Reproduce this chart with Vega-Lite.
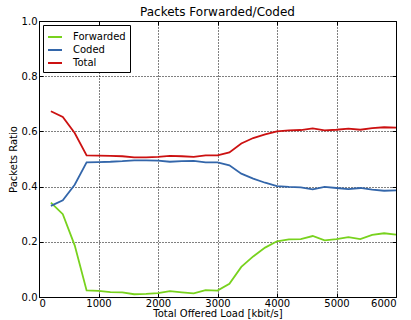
{
  "$schema": "https://vega.github.io/schema/vega-lite/v6.json",
  "width": 357,
  "height": 276,
  "autosize": {"type": "none"},
  "padding": {"left": 39, "top": 21, "right": 15, "bottom": 23},
  "background": "white",
  "title": {"text": "Packets Forwarded/Coded", "font": "DejaVu Sans", "fontSize": 12, "fontWeight": "normal", "color": "black", "offset": 4, "dy": 7},
  "config": {
    "view": {"stroke": "black", "strokeWidth": 1},
    "font": "DejaVu Sans",
    "axis": {
      "labelFont": "DejaVu Sans", "labelFontSize": 10, "labelColor": "black",
      "titleFont": "DejaVu Sans", "titleFontSize": 10, "titleFontWeight": "normal", "titleColor": "black",
      "domain": false, "tickColor": "black", "tickSize": -4, "tickWidth": 1,
      "grid": true, "gridColor": "black", "gridDash": [1, 2], "gridOpacity": 1, "gridWidth": 1,
      "labelPadding": 6
    }
  },
  "data": {"values": [
    {"load": 200, "series": "Forwarded", "ratio": 0.342},
    {"load": 400, "series": "Forwarded", "ratio": 0.300},
    {"load": 600, "series": "Forwarded", "ratio": 0.187},
    {"load": 800, "series": "Forwarded", "ratio": 0.024},
    {"load": 1000, "series": "Forwarded", "ratio": 0.022},
    {"load": 1200, "series": "Forwarded", "ratio": 0.018},
    {"load": 1400, "series": "Forwarded", "ratio": 0.017},
    {"load": 1600, "series": "Forwarded", "ratio": 0.010},
    {"load": 1800, "series": "Forwarded", "ratio": 0.011},
    {"load": 2000, "series": "Forwarded", "ratio": 0.014},
    {"load": 2200, "series": "Forwarded", "ratio": 0.021},
    {"load": 2400, "series": "Forwarded", "ratio": 0.017},
    {"load": 2600, "series": "Forwarded", "ratio": 0.013},
    {"load": 2800, "series": "Forwarded", "ratio": 0.025},
    {"load": 3000, "series": "Forwarded", "ratio": 0.023},
    {"load": 3200, "series": "Forwarded", "ratio": 0.048},
    {"load": 3400, "series": "Forwarded", "ratio": 0.109},
    {"load": 3600, "series": "Forwarded", "ratio": 0.147},
    {"load": 3800, "series": "Forwarded", "ratio": 0.179},
    {"load": 4000, "series": "Forwarded", "ratio": 0.202},
    {"load": 4200, "series": "Forwarded", "ratio": 0.209},
    {"load": 4400, "series": "Forwarded", "ratio": 0.210},
    {"load": 4600, "series": "Forwarded", "ratio": 0.221},
    {"load": 4800, "series": "Forwarded", "ratio": 0.205},
    {"load": 5000, "series": "Forwarded", "ratio": 0.210},
    {"load": 5200, "series": "Forwarded", "ratio": 0.217},
    {"load": 5400, "series": "Forwarded", "ratio": 0.210},
    {"load": 5600, "series": "Forwarded", "ratio": 0.225},
    {"load": 5800, "series": "Forwarded", "ratio": 0.231},
    {"load": 6000, "series": "Forwarded", "ratio": 0.226},
    {"load": 200, "series": "Coded", "ratio": 0.330},
    {"load": 400, "series": "Coded", "ratio": 0.350},
    {"load": 600, "series": "Coded", "ratio": 0.407},
    {"load": 800, "series": "Coded", "ratio": 0.488},
    {"load": 1000, "series": "Coded", "ratio": 0.489},
    {"load": 1200, "series": "Coded", "ratio": 0.490},
    {"load": 1400, "series": "Coded", "ratio": 0.492},
    {"load": 1600, "series": "Coded", "ratio": 0.495},
    {"load": 1800, "series": "Coded", "ratio": 0.495},
    {"load": 2000, "series": "Coded", "ratio": 0.494},
    {"load": 2200, "series": "Coded", "ratio": 0.490},
    {"load": 2400, "series": "Coded", "ratio": 0.492},
    {"load": 2600, "series": "Coded", "ratio": 0.493},
    {"load": 2800, "series": "Coded", "ratio": 0.488},
    {"load": 3000, "series": "Coded", "ratio": 0.488},
    {"load": 3200, "series": "Coded", "ratio": 0.477},
    {"load": 3400, "series": "Coded", "ratio": 0.447},
    {"load": 3600, "series": "Coded", "ratio": 0.429},
    {"load": 3800, "series": "Coded", "ratio": 0.414},
    {"load": 4000, "series": "Coded", "ratio": 0.402},
    {"load": 4200, "series": "Coded", "ratio": 0.399},
    {"load": 4400, "series": "Coded", "ratio": 0.397},
    {"load": 4600, "series": "Coded", "ratio": 0.390},
    {"load": 4800, "series": "Coded", "ratio": 0.399},
    {"load": 5000, "series": "Coded", "ratio": 0.395},
    {"load": 5200, "series": "Coded", "ratio": 0.391},
    {"load": 5400, "series": "Coded", "ratio": 0.395},
    {"load": 5600, "series": "Coded", "ratio": 0.389},
    {"load": 5800, "series": "Coded", "ratio": 0.385},
    {"load": 6000, "series": "Coded", "ratio": 0.386},
    {"load": 200, "series": "Total", "ratio": 0.673},
    {"load": 400, "series": "Total", "ratio": 0.652},
    {"load": 600, "series": "Total", "ratio": 0.594},
    {"load": 800, "series": "Total", "ratio": 0.513},
    {"load": 1000, "series": "Total", "ratio": 0.512},
    {"load": 1200, "series": "Total", "ratio": 0.511},
    {"load": 1400, "series": "Total", "ratio": 0.510},
    {"load": 1600, "series": "Total", "ratio": 0.506},
    {"load": 1800, "series": "Total", "ratio": 0.506},
    {"load": 2000, "series": "Total", "ratio": 0.508},
    {"load": 2200, "series": "Total", "ratio": 0.511},
    {"load": 2400, "series": "Total", "ratio": 0.510},
    {"load": 2600, "series": "Total", "ratio": 0.508},
    {"load": 2800, "series": "Total", "ratio": 0.513},
    {"load": 3000, "series": "Total", "ratio": 0.513},
    {"load": 3200, "series": "Total", "ratio": 0.524},
    {"load": 3400, "series": "Total", "ratio": 0.556},
    {"load": 3600, "series": "Total", "ratio": 0.576},
    {"load": 3800, "series": "Total", "ratio": 0.589},
    {"load": 4000, "series": "Total", "ratio": 0.600},
    {"load": 4200, "series": "Total", "ratio": 0.604},
    {"load": 4400, "series": "Total", "ratio": 0.605},
    {"load": 4600, "series": "Total", "ratio": 0.611},
    {"load": 4800, "series": "Total", "ratio": 0.604},
    {"load": 5000, "series": "Total", "ratio": 0.606},
    {"load": 5200, "series": "Total", "ratio": 0.610},
    {"load": 5400, "series": "Total", "ratio": 0.606},
    {"load": 5600, "series": "Total", "ratio": 0.612},
    {"load": 5800, "series": "Total", "ratio": 0.615},
    {"load": 6000, "series": "Total", "ratio": 0.614}
  ]},
  "layer": [
    {
      "mark": {"type": "line", "strokeWidth": 1.8, "clip": true},
      "encoding": {
        "x": {"field": "load", "type": "quantitative", "title": "Total Offered Load [kbit/s]",
              "scale": {"domain": [0, 6000], "nice": false},
              "axis": {"values": [0, 1000, 2000, 3000, 4000, 5000, 6000], "format": "d", "labelPadding": 5, "titlePadding": 0}},
        "y": {"field": "ratio", "type": "quantitative", "title": "Packets Ratio",
              "scale": {"domain": [0, 1], "nice": false},
              "axis": {"values": [0, 0.2, 0.4, 0.6, 0.8, 1.0], "format": ".1f", "titlePadding": 3}},
        "color": {"field": "series", "type": "nominal",
                  "scale": {"domain": ["Forwarded", "Coded", "Total"], "range": ["#78d21e", "#3366aa", "#cc1111"]},
                  "legend": {"title": null, "orient": "none", "legendX": 4, "legendY": 4,
                             "symbolType": "stroke", "symbolSize": 196, "symbolStrokeWidth": 2,
                             "labelFont": "DejaVu Sans", "labelFontSize": 10, "labelColor": "black",
                             "labelOffset": 10, "rowPadding": 0,
                             "strokeColor": "black", "fillColor": "white", "padding": 4, "cornerRadius": 0}},
        "order": {"field": "load", "type": "quantitative"}
      }
    },
    {
      "mark": {"type": "line", "opacity": 0},
      "encoding": {
        "x": {"field": "load", "type": "quantitative",
              "axis": {"orient": "top", "values": [0, 1000, 2000, 3000, 4000, 5000, 6000], "labels": false, "grid": false, "title": null}},
        "y": {"field": "ratio", "type": "quantitative",
              "axis": {"orient": "right", "values": [0, 0.2, 0.4, 0.6, 0.8, 1.0], "labels": false, "grid": false, "title": null}},
        "detail": {"field": "series"}
      }
    }
  ],
  "resolve": {"axis": {"x": "independent", "y": "independent"}}
}
